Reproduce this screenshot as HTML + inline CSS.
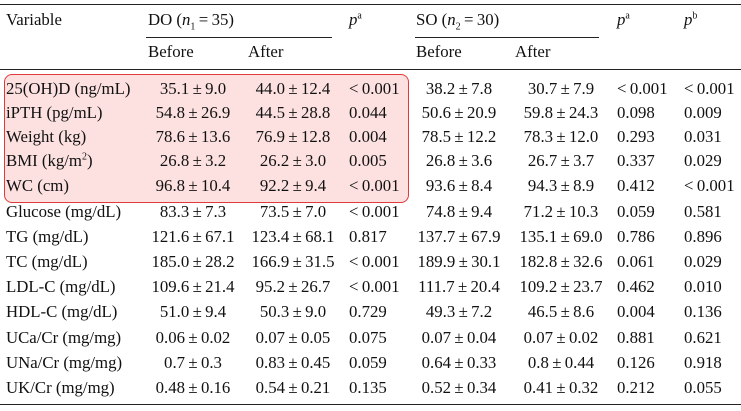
<!DOCTYPE html>
<html><head><meta charset="utf-8"><style>
body{margin:0;background:#fff;width:741px;height:411px;overflow:hidden;position:relative;font-family:"Liberation Serif",serif;font-size:16.8px;color:#111}
.r{position:absolute;left:0;width:741px;height:20px;line-height:20px}
.r span{position:absolute;white-space:nowrap}
.c1{left:6px}
.c2{left:138px;width:110px;text-align:center}
.c3{left:238px;width:110px;text-align:center}
.c4{left:349px}
.c5{left:404px;width:110px;text-align:center}
.c6{left:506px;width:110px;text-align:center}
.c7{left:617px}
.c8{left:684px}
.line{position:absolute;background:#222;height:1.3px}
.box{position:absolute;left:4px;top:74px;width:403px;height:127px;border:1.3px solid #e03a3a;border-radius:8px;background:#fde1e1}
sup{font-size:10px;line-height:0}
sub{font-size:10px;line-height:0}
</style></head><body>
<div class="line" style="left:0;top:4px;width:741px"></div>
<div class="line" style="left:146px;top:37px;width:186px"></div>
<div class="line" style="left:415px;top:37px;width:184px"></div>
<div class="line" style="left:0;top:69px;width:741px"></div>
<div class="line" style="left:0;top:404px;width:741px"></div>
<div class="box"></div>
<div class="r" style="top:10px"><span class="c1">Variable</span><span style="left:148px">DO (<i>n</i><sub>1</sub>&thinsp;=&thinsp;35)</span><span class="c4"><i>p</i><sup>a</sup></span><span style="left:416px">SO (<i>n</i><sub>2</sub>&thinsp;=&thinsp;30)</span><span class="c7"><i>p</i><sup>a</sup></span><span class="c8"><i>p</i><sup>b</sup></span></div>
<div class="r" style="top:42px"><span style="left:148px">Before</span><span style="left:248px">After</span><span style="left:416px">Before</span><span style="left:515px">After</span></div>
<div class="r" style="top:79px"><span class="c1">25(OH)D (ng/mL)</span><span class="c2">35.1&thinsp;±&thinsp;9.0</span><span class="c3">44.0&thinsp;±&thinsp;12.4</span><span class="c4">&lt;&thinsp;0.001</span><span class="c5">38.2&thinsp;±&thinsp;7.8</span><span class="c6">30.7&thinsp;±&thinsp;7.9</span><span class="c7">&lt;&thinsp;0.001</span><span class="c8">&lt;&thinsp;0.001</span></div>
<div class="r" style="top:103px"><span class="c1">iPTH (pg/mL)</span><span class="c2">54.8&thinsp;±&thinsp;26.9</span><span class="c3">44.5&thinsp;±&thinsp;28.8</span><span class="c4">0.044</span><span class="c5">50.6&thinsp;±&thinsp;20.9</span><span class="c6">59.8&thinsp;±&thinsp;24.3</span><span class="c7">0.098</span><span class="c8">0.009</span></div>
<div class="r" style="top:127px"><span class="c1">Weight (kg)</span><span class="c2">78.6&thinsp;±&thinsp;13.6</span><span class="c3">76.9&thinsp;±&thinsp;12.8</span><span class="c4">0.004</span><span class="c5">78.5&thinsp;±&thinsp;12.2</span><span class="c6">78.3&thinsp;±&thinsp;12.0</span><span class="c7">0.293</span><span class="c8">0.031</span></div>
<div class="r" style="top:151px"><span class="c1">BMI (kg/m<sup>2</sup>)</span><span class="c2">26.8&thinsp;±&thinsp;3.2</span><span class="c3">26.2&thinsp;±&thinsp;3.0</span><span class="c4">0.005</span><span class="c5">26.8&thinsp;±&thinsp;3.6</span><span class="c6">26.7&thinsp;±&thinsp;3.7</span><span class="c7">0.337</span><span class="c8">0.029</span></div>
<div class="r" style="top:176px"><span class="c1">WC (cm)</span><span class="c2">96.8&thinsp;±&thinsp;10.4</span><span class="c3">92.2&thinsp;±&thinsp;9.4</span><span class="c4">&lt;&thinsp;0.001</span><span class="c5">93.6&thinsp;±&thinsp;8.4</span><span class="c6">94.3&thinsp;±&thinsp;8.9</span><span class="c7">0.412</span><span class="c8">&lt;&thinsp;0.001</span></div>
<div class="r" style="top:202px"><span class="c1">Glucose (mg/dL)</span><span class="c2">83.3&thinsp;±&thinsp;7.3</span><span class="c3">73.5&thinsp;±&thinsp;7.0</span><span class="c4">&lt;&thinsp;0.001</span><span class="c5">74.8&thinsp;±&thinsp;9.4</span><span class="c6">71.2&thinsp;±&thinsp;10.3</span><span class="c7">0.059</span><span class="c8">0.581</span></div>
<div class="r" style="top:227px"><span class="c1">TG (mg/dL)</span><span class="c2">121.6&thinsp;±&thinsp;67.1</span><span class="c3">123.4&thinsp;±&thinsp;68.1</span><span class="c4">0.817</span><span class="c5">137.7&thinsp;±&thinsp;67.9</span><span class="c6">135.1&thinsp;±&thinsp;69.0</span><span class="c7">0.786</span><span class="c8">0.896</span></div>
<div class="r" style="top:252px"><span class="c1">TC (mg/dL)</span><span class="c2">185.0&thinsp;±&thinsp;28.2</span><span class="c3">166.9&thinsp;±&thinsp;31.5</span><span class="c4">&lt;&thinsp;0.001</span><span class="c5">189.9&thinsp;±&thinsp;30.1</span><span class="c6">182.8&thinsp;±&thinsp;32.6</span><span class="c7">0.061</span><span class="c8">0.029</span></div>
<div class="r" style="top:277px"><span class="c1">LDL-C (mg/dL)</span><span class="c2">109.6&thinsp;±&thinsp;21.4</span><span class="c3">95.2&thinsp;±&thinsp;26.7</span><span class="c4">&lt;&thinsp;0.001</span><span class="c5">111.7&thinsp;±&thinsp;20.4</span><span class="c6">109.2&thinsp;±&thinsp;23.7</span><span class="c7">0.462</span><span class="c8">0.010</span></div>
<div class="r" style="top:302px"><span class="c1">HDL-C (mg/dL)</span><span class="c2">51.0&thinsp;±&thinsp;9.4</span><span class="c3">50.3&thinsp;±&thinsp;9.0</span><span class="c4">0.729</span><span class="c5">49.3&thinsp;±&thinsp;7.2</span><span class="c6">46.5&thinsp;±&thinsp;8.6</span><span class="c7">0.004</span><span class="c8">0.136</span></div>
<div class="r" style="top:328px"><span class="c1">UCa/Cr (mg/mg)</span><span class="c2">0.06&thinsp;±&thinsp;0.02</span><span class="c3">0.07&thinsp;±&thinsp;0.05</span><span class="c4">0.075</span><span class="c5">0.07&thinsp;±&thinsp;0.04</span><span class="c6">0.07&thinsp;±&thinsp;0.02</span><span class="c7">0.881</span><span class="c8">0.621</span></div>
<div class="r" style="top:353px"><span class="c1">UNa/Cr (mg/mg)</span><span class="c2">0.7&thinsp;±&thinsp;0.3</span><span class="c3">0.83&thinsp;±&thinsp;0.45</span><span class="c4">0.059</span><span class="c5">0.64&thinsp;±&thinsp;0.33</span><span class="c6">0.8&thinsp;±&thinsp;0.44</span><span class="c7">0.126</span><span class="c8">0.918</span></div>
<div class="r" style="top:378px"><span class="c1">UK/Cr (mg/mg)</span><span class="c2">0.48&thinsp;±&thinsp;0.16</span><span class="c3">0.54&thinsp;±&thinsp;0.21</span><span class="c4">0.135</span><span class="c5">0.52&thinsp;±&thinsp;0.34</span><span class="c6">0.41&thinsp;±&thinsp;0.32</span><span class="c7">0.212</span><span class="c8">0.055</span></div>
</body></html>
